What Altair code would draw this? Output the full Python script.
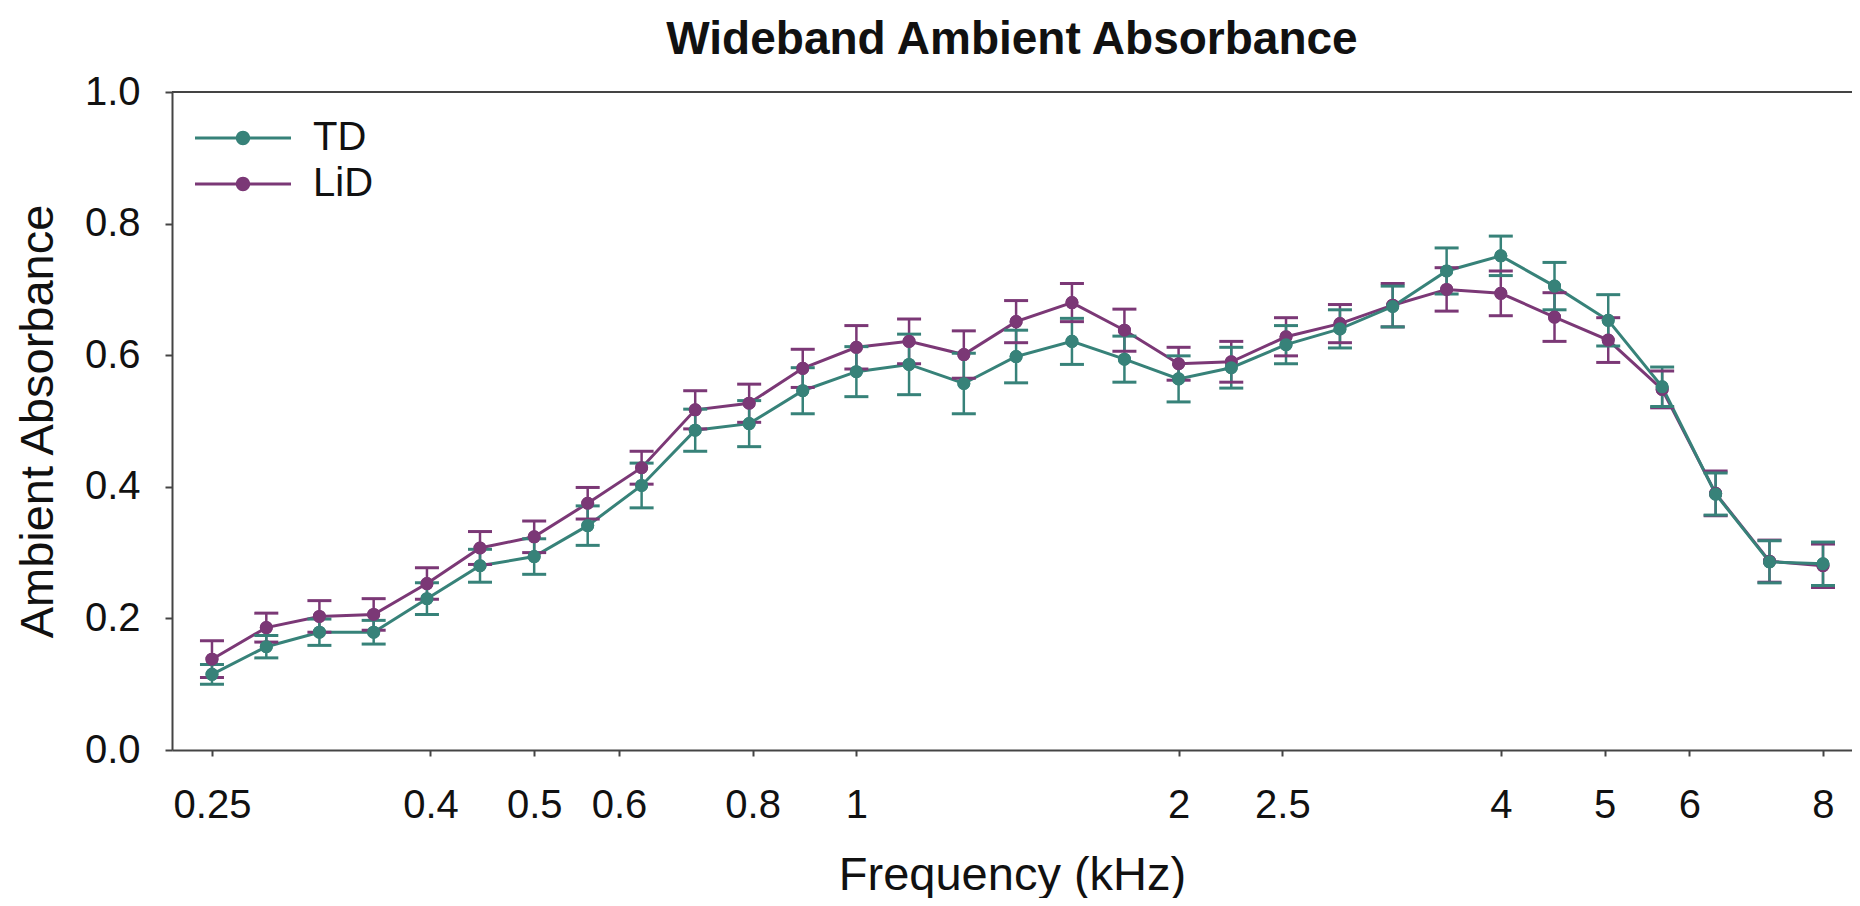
import altair as alt
import pandas as pd

freqs = [0.25, 0.281, 0.315, 0.354, 0.397, 0.445, 0.5, 0.561, 0.63, 0.707, 0.794, 0.891,
         1.0, 1.12, 1.26, 1.41, 1.59, 1.78, 2.0, 2.24, 2.52, 2.83, 3.17, 3.56, 4.0, 4.49,
         5.04, 5.66, 6.35, 7.13, 8.0]
td = [0.115, 0.157, 0.179, 0.179, 0.230, 0.280, 0.294, 0.341, 0.402, 0.486, 0.496, 0.546,
      0.575, 0.586, 0.557, 0.598, 0.621, 0.594, 0.564, 0.581, 0.616, 0.640, 0.674, 0.728,
      0.751, 0.705, 0.653, 0.552, 0.389, 0.286, 0.283]
td_err = [0.015, 0.017, 0.020, 0.018, 0.024, 0.025, 0.027, 0.030, 0.034, 0.032, 0.035, 0.035,
          0.038, 0.046, 0.046, 0.040, 0.035, 0.035, 0.035, 0.031, 0.029, 0.029, 0.031, 0.035,
          0.030, 0.036, 0.039, 0.030, 0.032, 0.032, 0.033]
lid = [0.138, 0.186, 0.203, 0.206, 0.253, 0.307, 0.324, 0.375, 0.429, 0.517, 0.527, 0.580,
       0.612, 0.621, 0.601, 0.651, 0.680, 0.638, 0.587, 0.590, 0.628, 0.648, 0.676, 0.700,
       0.694, 0.658, 0.623, 0.548, 0.390, 0.287, 0.280]
lid_err = [0.028, 0.022, 0.024, 0.024, 0.024, 0.025, 0.024, 0.024, 0.025, 0.029, 0.029, 0.029,
           0.033, 0.034, 0.036, 0.032, 0.029, 0.032, 0.025, 0.031, 0.029, 0.029, 0.033, 0.033,
           0.034, 0.037, 0.034, 0.028, 0.034, 0.032, 0.033]

groups = ["TD", "LiD"]
colors = ["#378279", "#7b3876"]
x_ticks = [0.25, 0.4, 0.5, 0.6, 0.8, 1, 2, 2.5, 4, 5, 6, 8]
y_ticks = [0.0, 0.2, 0.4, 0.6, 0.8, 1.0]

rows = []
for g, vals, errs in [("LiD", lid, lid_err), ("TD", td, td_err)]:
    for f, v, e in zip(freqs, vals, errs):
        rows.append({"freq": f, "value": v, "lo": v - e, "hi": v + e, "group": g})
df = pd.DataFrame(rows)

W, H = 1680, 658
FONT = "Liberation Sans"

xscale = alt.Scale(type="log", domain=[0.2294, 8.515], nice=False)
yscale = alt.Scale(domain=[0, 1], nice=False)
cscale = alt.Scale(domain=groups, range=colors)

x_enc = alt.X("freq:Q", scale=xscale,
              axis=alt.Axis(values=x_ticks, format="~g", title="Frequency (kHz)",
                            grid=False, tickSize=6, labelPadding=29, titlePadding=27,
                            labelFontSize=40, titleFontSize=47, labelFlush=False))
y_enc = alt.Y("value:Q", scale=yscale,
              axis=alt.Axis(values=y_ticks, format=".1f", title="Ambient Absorbance",
                            grid=False, tickSize=7, labelPadding=25, titlePadding=22,
                            labelFontSize=40, titleFontSize=47))

legend_path = ("M-1,-0.06L3,-0.06L3,0.06L-1,0.06Z "
               "M1.3,0A0.3,0.3,0,1,1,0.7,0A0.3,0.3,0,1,1,1.3,0Z")
color = alt.Color("group:N", scale=cscale,
                  legend=alt.Legend(title=None, orient="none", legendX=23, legendY=22,
                                    symbolType=legend_path, symbolSize=2304,
                                    symbolStrokeWidth=0, labelFontSize=40,
                                    labelOffset=70, rowPadding=2, padding=0,
                                    labelColor="#111111"))

base = alt.Chart(df)

points_under = base.mark_point(filled=True, size=170, opacity=1).encode(
    x=x_enc, y=y_enc, color=color)
rules = base.mark_rule(strokeWidth=2.5).encode(
    x="freq:Q", y="lo:Q", y2="hi:Q", color=color)
cap_lo = base.mark_tick(orient="horizontal", size=24, thickness=3, opacity=1).encode(
    x="freq:Q", y="lo:Q", color=color)
cap_hi = base.mark_tick(orient="horizontal", size=24, thickness=3, opacity=1).encode(
    x="freq:Q", y="hi:Q", color=color)
lines = base.mark_line(strokeWidth=3).encode(
    x="freq:Q", y="value:Q", color=color, order="freq:Q")
points = base.mark_point(filled=True, size=170, opacity=1).encode(
    x="freq:Q", y="value:Q", color=color)
top_line = alt.Chart(df).mark_rule(color="#444444", strokeWidth=2).encode(
    x=alt.value(0), x2=alt.value(W), y=alt.value(0))

chart = alt.layer(points_under, lines, rules, cap_lo, cap_hi, points, top_line).properties(
    width=W, height=H,
    autosize=alt.AutoSizeParams(type="none"),
    padding={"left": 164, "top": 84, "right": 0, "bottom": 148},
    title=alt.TitleParams("Wideband Ambient Absorbance", fontSize=46, fontWeight="bold",
                          font=FONT, anchor="middle", frame="group", offset=8,
                          color="#111111"),
).configure(font=FONT).configure_view(stroke=None).configure_axis(
    domainColor="#444444", domainWidth=2, tickColor="#444444", tickWidth=2,
    labelColor="#111111", titleColor="#111111", labelFont=FONT, titleFont=FONT,
    titleFontWeight="normal"
).configure_legend(labelFont=FONT)

chart.save("out.html", embed_options={"renderer": "svg", "actions": False})
